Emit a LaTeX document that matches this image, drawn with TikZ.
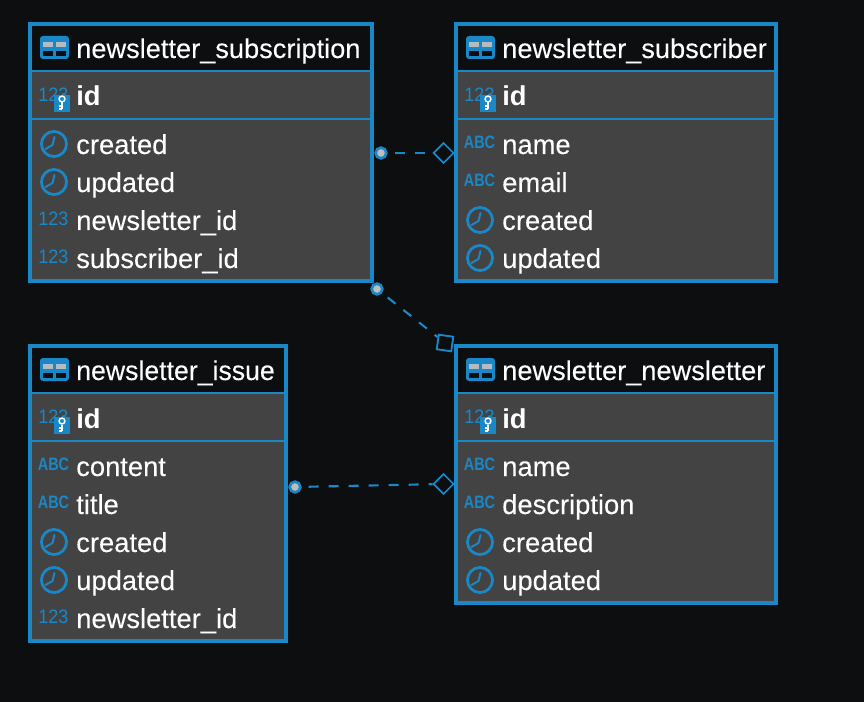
\documentclass[tikz,border=0pt]{standalone}
\usepackage{fontspec}
\usepackage{graphicx}
\setmainfont{Liberation Sans}
\usetikzlibrary{shapes.geometric}
\definecolor{bgc}{HTML}{0C0E10}
\definecolor{rowc}{HTML}{434343}
\definecolor{blu}{HTML}{1A87C6}
\definecolor{cellg}{HTML}{B4BCC2}
\definecolor{dotg}{HTML}{BEBEBE}
\definecolor{txt}{HTML}{FFFFFF}
\newfontfamily\medfont[FakeBold=0.12]{Liberation Sans}
\tikzset{
 x=0.75pt,y=-0.75pt,
 tablebox/.style={draw=blu,line width=3pt,fill=rowc,anchor=north west,inner sep=0pt,outer sep=0pt},
 rowline/.style={draw=blu,line width=1.5pt},
 hdrtext/.style={anchor=base west,text=txt,inner sep=0pt,font=\fontsize{20.4pt}{24pt}\medfont},
 idtext/.style={anchor=base west,text=txt,inner sep=0pt,font=\fontsize{20.5pt}{24pt}\selectfont\bfseries},
 fieldtext/.style={anchor=base west,text=txt,inner sep=0pt,font=\fontsize{20.5pt}{24pt}\medfont},
 icontext/.style={text=blu,inner sep=0pt,font=\fontsize{13.5pt}{14pt}\selectfont},
 abctext/.style={text=blu,inner sep=0pt,font=\fontsize{10.8pt}{14pt}\selectfont\bfseries},
 link/.style={draw=blu,line width=1.6pt,dash pattern=on 7.5pt off 7.5pt,dash phase=9.75pt},
 startdot/.style={circle,draw=blu,fill=dotg,line width=2pt,minimum size=8pt,inner sep=0pt},
 enddiamond/.style={diamond,draw=blu,fill=bgc,line width=1.3pt,minimum width=15.5pt,minimum height=15.5pt,inner sep=0pt,aspect=1},
 endsquare/.style={rectangle,draw=blu,fill=bgc,line width=1.4pt,minimum size=11pt,inner sep=0pt,rotate=-8},
}
\newcommand{\clockicon}[2]{%
 \begin{scope}[shift={(#1,#2)}]
  \draw[blu,line width=2.1pt] (54,-1) circle (9.4pt);
  \draw[blu,line width=1.5pt,line cap=round] (54.5,-8) -- (52.5,0) -- (45.5,4);
 \end{scope}}
\newcommand{\tableicon}[2]{%
 \begin{scope}[shift={(#1,#2)}]
  \fill[blu,rounded corners=2.2pt] (40,-13) rectangle (69,10);
  \fill[cellg] (43,-7) rectangle (53,-2);
  \fill[cellg] (56,-7) rectangle (66,-2);
  \fill[bgc] (43,2) rectangle (53,7);
  \fill[bgc] (56,2) rectangle (66,7);
 \end{scope}}
\newcommand{\keyicon}[2]{%
 \begin{scope}[shift={(#1,#2)}]
  \fill[blu] (54,-1) rectangle (70,16);
  \draw[blu,line width=1.8pt] (57.5,-1) arc (180:0:4.5);
  \draw[white,line width=1.1pt] (62,3) circle (2.2pt);
  \draw[white,line width=1.2pt] (62,6.5) -- (62,13) (62,10) -- (59,10) (62,13) -- (59,13);
 \end{scope}}
\newcommand{\nums}{\scalebox{1}[1.08]{123}}
\newcommand{\abcs}{\scalebox{1}[1.25]{ABC}}
% #1 name #2 x offset #3 y centre #4 text
\newcommand{\numrow}[4]{\node[icontext] (#1i) at (53.5+#2,#3-2) {\nums}; \node[fieldtext] (#1) at (76+#2,#3+9) {#4};}
\newcommand{\abcrow}[4]{\node[abctext] (#1i) at (53.5+#2,#3-3) {\abcs}; \node[fieldtext] (#1) at (76+#2,#3+9) {#4};}
\newcommand{\timerow}[4]{\clockicon{#2}{#3}\node[fieldtext] (#1) at (76+#2,#3+9) {#4};}
\newcommand{\idrow}[3]{\node[icontext] (#1i) at (53.5+#2,#3-1) {\nums}; \keyicon{#2}{#3} \node[idtext] (#1) at (76+#2,#3+10) {id};}
% #1 name #2 left #3 top #4 width #5 height #6 icon x offset #7 title
\newcommand{\tablebase}[7]{%
 \node[tablebox,minimum width=#4*0.75pt,minimum height=#5*0.75pt] (#1) at (#2,#3) {};
 \fill[bgc] (#2+2,#3+2) rectangle (#2+#4-2,#3+46);
 \draw[rowline] (#2,#3+47) -- (#2+#4,#3+47);
 \draw[rowline] (#2,#3+95) -- (#2+#4,#3+95);
 \tableicon{#6}{#3+25}
 \node[hdrtext] (#1h) at (76+#6,#3+34) {#7};
}
\begin{document}
\begin{tikzpicture}
\useasboundingbox (0,0) rectangle (864,702);
\fill[bgc] (0,0) rectangle (864,702);

\node[startdot] (d1) at (381,153) {};
\node[enddiamond] (e1) at (443.5,153) {};
\node[startdot] (d2) at (377,289) {};
\node[endsquare] (e2) at (445,343) {};
\node[startdot] (d3) at (295,487) {};
\node[enddiamond] (e3) at (443.5,484) {};
\draw[link] (d1) -- (e1);
\draw[link] (d2) -- (e2);
\draw[link] (d3) -- (e3);

\tablebase{ta}{30}{24}{342}{257}{0}{newsletter\_subscription}
\idrow{tak}{0}{96}
\timerow{ta1}{0}{145}{created}
\timerow{ta2}{0}{183}{updated}
\numrow{ta3}{0}{221}{newsletter\_id}
\numrow{ta4}{0}{259}{subscriber\_id}

\tablebase{tb}{456}{24}{320}{257}{426}{newsletter\_subscriber}
\idrow{tbk}{426}{96}
\abcrow{tb1}{426}{145}{name}
\abcrow{tb2}{426}{183}{email}
\timerow{tb3}{426}{221}{created}
\timerow{tb4}{426}{259}{updated}

\tablebase{tc}{30}{346}{256}{295}{0}{\scalebox{0.98}[1]{newsletter\_issue}}
\idrow{tck}{0}{418}
\abcrow{tc1}{0}{467}{content}
\abcrow{tc2}{0}{505}{title}
\timerow{tc3}{0}{543}{created}
\timerow{tc4}{0}{581}{updated}
\numrow{tc5}{0}{619}{newsletter\_id}

\tablebase{td}{456}{346}{320}{257}{426}{newsletter\_newsletter}
\idrow{tdk}{426}{418}
\abcrow{td1}{426}{467}{name}
\abcrow{td2}{426}{505}{description}
\timerow{td3}{426}{543}{created}
\timerow{td4}{426}{581}{updated}
\end{tikzpicture}
\end{document}
